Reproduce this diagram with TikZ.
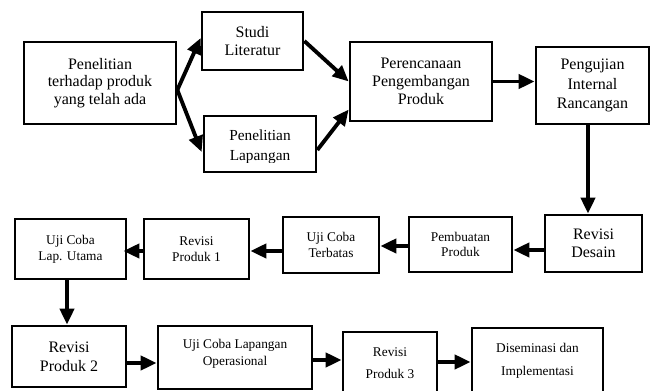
\documentclass[tikz,border=0pt]{standalone}
\usepackage{fontspec}
\setmainfont{Liberation Serif}
\usetikzlibrary{arrows.meta,calc}
\tikzset{
  box/.style={draw, line width=2pt, inner sep=0pt, align=center},
  wh/.style 2 args={minimum width=#1*0.75pt, minimum height=#2*0.75pt},
  plaintext/.style={inner sep=0pt, align=center},
  arr/.style={line width=2.9pt, -{Triangle[length=12pt,width=10.5pt]}},
}
\begin{document}
\begin{tikzpicture}[x=0.75pt,y=-0.75pt]
\fill[white] (0,0) rectangle (654,391);
\useasboundingbox (0,0) rectangle (654,391);

% top row
\node[box,wh={152}{82},font=\fontsize{12}{13.1}\selectfont] (pen) at (100,83) {Penelitian\\terhadap produk\\yang telah ada};
\node[box,wh={101}{58},font=\fontsize{12}{13.5}\selectfont] (studi) at (252.5,41) {Studi\\Literatur};
\node[box,wh={112}{56}] (lap) at (260,144) {};
\begin{scope}
  \clip (204,116) rectangle (316,163);
  \node[plaintext,font=\fontsize{11.5}{15}\selectfont] (lapT) at (260,147) {Penelitian\\Lapangan};
\end{scope}
\node[box,wh={142}{79},font=\fontsize{12}{13.7}\selectfont] (per) at (421,81.5) {Perencanaan\\Pengembangan\\Produk};
\node[box,wh={113}{77},font=\fontsize{12}{14.3}\selectfont] (peng) at (592.5,85.5) {Pengujian\\Internal\\Rancangan};

% middle row
\node[box,wh={97}{57},font=\fontsize{12}{13.3}\selectfont] (desain) at (593.5,243.5) {Revisi\\Desain};
\node[box,wh={103}{55},font=\fontsize{10}{11.8}\selectfont] (pemb) at (460.5,244.5) {Pembuatan\\Produk};
\node[box,wh={96}{56},font=\fontsize{10}{11.8}\selectfont] (terb) at (331,245) {Uji Coba\\Terbatas};
\node[box,wh={105}{60},font=\fontsize{10}{12}\selectfont] (rev1) at (196.5,249) {Revisi\\Produk 1};
\node[box,wh={111}{60},font=\fontsize{10}{12}\selectfont] (ujilap) at (70.5,249) {Uji Coba\\Lap. Utama};

% bottom row
\node[box,wh={114}{61},font=\fontsize{12}{14.3}\selectfont] (rev2) at (69,356.5) {Revisi\\Produk 2};
\node[box,wh={154}{63}] (ujiop) at (235,357.5) {};
\node[plaintext,font=\fontsize{10}{12.5}\selectfont] (ujiopT) at (235,353.5) {Uji Coba Lapangan\\Operasional};
\node[box,wh={94}{62},font=\fontsize{10}{16.3}\selectfont] (rev3) at (390,363) {Revisi\\Produk 3};
\node[box,wh={131}{66},font=\fontsize{10}{17}\selectfont] (dis) at (537.5,361) {Diseminasi dan\\Implementasi};

% connectors
\coordinate (fork) at ($(pen.east)+(0,7)$);
\draw[arr] (fork) -- ($(studi.west)+(0,-3)$);
\draw[arr] (fork) -- ($(lap.west)+(-1,8)$);
\draw[arr] (studi.east) -- (per.west);
\draw[arr] ($(lap.east)+(0,6)$) -- ($(per.west)+(0,28)$);
\draw[arr] (per.east) -- (per.east -| peng.west);
\coordinate (c6) at ($(peng.south)+(-4.5,0)$);
\draw[arr] (c6) -- (c6 |- desain.north);
\coordinate (c7) at ($(desain.west)+(0,6.5)$);
\draw[arr] (c7) -- (c7 -| pemb.east);
\coordinate (c8) at ($(pemb.west)+(0,1.5)$);
\draw[arr] (c8) -- (c8 -| terb.east);
\coordinate (c9) at ($(terb.west)+(0,6)$);
\draw[arr] (c9) -- (c9 -| rev1.east);
\coordinate (c10) at ($(rev1.west)+(0,2)$);
\draw[arr] (c10) -- ($(c10 -| ujilap.east)+(-4,0)$);
\coordinate (c11) at ($(ujilap.south)+(-3.5,0)$);
\draw[arr] (c11) -- (c11 |- rev2.north);
\coordinate (c12) at ($(rev2.east)+(0,6.5)$);
\draw[arr] (c12) -- (c12 -| ujiop.west);
\coordinate (c13) at ($(ujiop.east)+(0,2.5)$);
\draw[arr] (c13) -- (c13 -| rev3.west);
\coordinate (c14) at ($(rev3.east)+(0,-1)$);
\draw[arr] (c14) -- (c14 -| dis.west);
\end{tikzpicture}
\end{document}
